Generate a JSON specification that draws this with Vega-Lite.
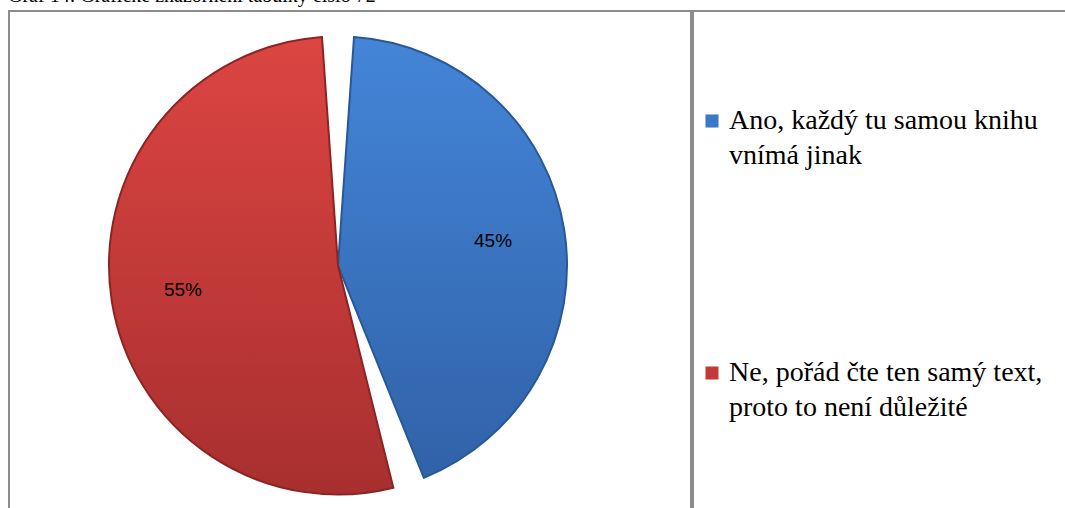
{
  "$schema": "https://vega.github.io/schema/vega-lite/v6.json",
  "padding": {"left": 8, "top": -14, "right": 0, "bottom": 0},
  "background": "white",
  "title": {
    "text": "Graf 14: Grafické znázornění tabulky číslo 72",
    "anchor": "start",
    "font": "Liberation Serif",
    "fontSize": 20,
    "fontWeight": "normal",
    "color": "#000000",
    "offset": 4
  },
  "data": {
    "values": [
      {"answer": "Ano, každý tu samou knihu vnímá jinak", "percent": 0.45},
      {"answer": "Ne, pořád čte ten samý text, proto to není důležité", "percent": 0.55}
    ]
  },
  "spacing": 0,
  "hconcat": [
    {
      "width": 682,
      "height": 505,
      "view": {"stroke": "#8c8c8c", "strokeWidth": 2},
      "layer": [
        {
          "mark": {"type": "arc", "outerRadius": 229, "padAngle": 0.14, "strokeWidth": 0, "xOffset": -12, "yOffset": 2},
          "encoding": {
            "theta": {"field": "percent", "type": "quantitative", "stack": true},
            "color": {
              "field": "answer",
              "type": "nominal",
              "scale": {"range": ["#3c78c6", "#c23b39"]},
              "legend": {
                "orient": "none",
                "legendX": 689,
                "legendY": 96,
                "title": null,
                "symbolType": "square",
                "symbolSize": 170,
                "symbolStrokeWidth": 0,
                "labelFont": "Liberation Serif",
                "labelFontSize": 28,
                "labelColor": "#000000",
                "labelLimit": 500,
                "labelOffset": 3,
                "rowPadding": 189,
                "labelExpr": "datum.label == 'Ano, každý tu samou knihu vnímá jinak' ? ['Ano, každý tu samou knihu', 'vnímá jinak'] : ['Ne, pořád čte ten samý text,', 'proto to není důležité']",
                "encode": {
                  "labels": {"update": {"lineHeight": {"value": 35}}}
                }
              }
            }
          }
        },
        {
          "mark": {"type": "arc", "outerRadius": 229, "padAngle": 0.14, "strokeWidth": 2, "xOffset": -12, "yOffset": 2},
          "encoding": {
            "theta": {"field": "percent", "type": "quantitative", "stack": true},
            "fill": {
              "condition": {
                "test": "datum.answer == 'Ano, každý tu samou knihu vnímá jinak'",
                "value": {"gradient": "linear", "x1": 0, "y1": 0, "x2": 0, "y2": 1, "stops": [{"offset": 0, "color": "#4485d8"}, {"offset": 1, "color": "#3062a8"}]}
              },
              "value": {"gradient": "linear", "x1": 0, "y1": 0, "x2": 0, "y2": 1, "stops": [{"offset": 0, "color": "#dc4542"}, {"offset": 1, "color": "#a82f2f"}]}
            },
            "stroke": {
              "field": "answer",
              "type": "nominal",
              "scale": {"range": ["#2a5894", "#8a2525"]},
              "legend": null
            }
          }
        },
        {
          "mark": {"type": "text", "radius": 157, "font": "Liberation Sans", "fontSize": 19, "color": "#000000", "xOffset": -12, "yOffset": 2},
          "encoding": {
            "theta": {"field": "percent", "type": "quantitative", "stack": true},
            "text": {"field": "percent", "type": "quantitative", "format": ".0%"},
            "detail": {"field": "answer", "type": "nominal"}
          }
        }
      ]
    },
    {
      "width": 390,
      "height": 505,
      "view": {"stroke": "#8c8c8c", "strokeWidth": 2},
      "mark": {"type": "point", "opacity": 0},
      "encoding": {}
    }
  ],
  "config": {
    "view": {"stroke": "#8c8c8c", "strokeWidth": 2}
  }
}
